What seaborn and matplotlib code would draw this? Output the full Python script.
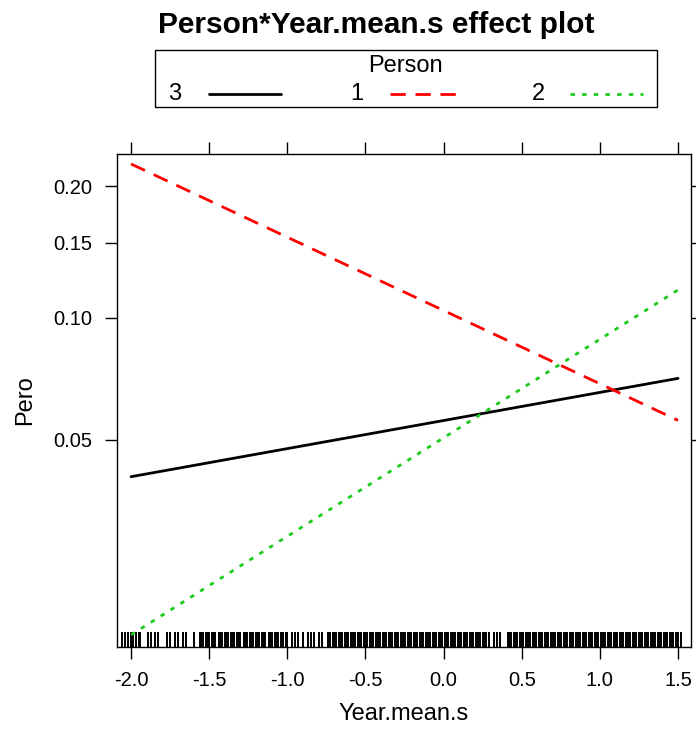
import matplotlib
matplotlib.use("Agg")
import matplotlib.pyplot as plt
from matplotlib.lines import Line2D
from matplotlib.patches import Rectangle
from matplotlib.ticker import FixedLocator, FixedFormatter, NullLocator
import seaborn as sns
import pandas as pd

sns.set_theme(style="white")
plt.rcParams['font.family'] = ['Liberation Sans', 'DejaVu Sans']
plt.rcParams['text.color'] = 'black'

# ---- data ----
persons = ["3", "1", "2"]
x_ends = [-2.0, 1.5]
pero_p3 = [0.0402, 0.0712]
pero_p1 = [0.2226, 0.0559]
pero_p2 = [0.0156, 0.1166]

rug_x = [-2.06, -2.04, -2.02, -2.00, -1.99, -1.97, -1.95, -1.94, -1.89, -1.87, -1.85, -1.83,
         -1.77, -1.75, -1.72, -1.70, -1.67, -1.65, -1.60,
         -1.56, -1.55, -1.54, -1.52, -1.51, -1.50, -1.48, -1.47, -1.46, -1.44, -1.43, -1.42,
         -1.40, -1.39, -1.38, -1.36, -1.35, -1.34, -1.32, -1.31, -1.30, -1.28, -1.27, -1.26,
         -1.24, -1.23, -1.22, -1.20, -1.19, -1.18, -1.16, -1.15, -1.14, -1.12, -1.11, -1.10,
         -1.08, -1.07, -1.06, -1.04, -1.03, -1.01, -1.00,
         -0.97, -0.95, -0.93, -0.90, -0.87, -0.85, -0.83, -0.80, -0.78,
         -0.74, -0.73, -0.71, -0.70, -0.69, -0.67, -0.66, -0.65, -0.63, -0.62, -0.61, -0.59,
         -0.58, -0.57, -0.55, -0.54, -0.53, -0.51, -0.50, -0.49, -0.47, -0.46, -0.45, -0.43,
         -0.42, -0.41, -0.39, -0.38, -0.37, -0.35, -0.34, -0.33, -0.31, -0.30, -0.29, -0.27,
         -0.26, -0.25, -0.23, -0.22, -0.21, -0.19, -0.18, -0.17, -0.15, -0.14, -0.13, -0.11,
         -0.10, -0.09, -0.07, -0.06, -0.05, -0.03, -0.02, -0.01, 0.01, 0.02, 0.03, 0.05,
         0.06, 0.07, 0.09, 0.10, 0.11, 0.13, 0.14, 0.15, 0.17, 0.18, 0.19, 0.21, 0.22, 0.23,
         0.25, 0.26, 0.27, 0.29,
         0.32, 0.34, 0.36,
         0.41, 0.42, 0.43, 0.45, 0.46, 0.47, 0.49, 0.50, 0.51, 0.53, 0.54, 0.55, 0.57, 0.58,
         0.59, 0.61, 0.62, 0.63, 0.65, 0.66, 0.67, 0.69, 0.70, 0.71, 0.73, 0.74, 0.75, 0.77,
         0.78, 0.79, 0.81, 0.82, 0.83, 0.85, 0.86, 0.87, 0.89, 0.90, 0.91, 0.93, 0.94, 0.95,
         0.97, 0.98, 0.99, 1.01, 1.02, 1.03, 1.05, 1.06, 1.07, 1.09, 1.10, 1.11, 1.13, 1.14,
         1.15, 1.17, 1.18, 1.19, 1.21, 1.22, 1.23, 1.25, 1.26, 1.27, 1.29, 1.30, 1.31, 1.33,
         1.34, 1.35, 1.37, 1.38, 1.39, 1.41, 1.42, 1.43, 1.45, 1.46, 1.47, 1.49, 1.50, 1.52]

y_ticks = [0.05, 0.10, 0.15, 0.20]
y_tick_labels = ["0.05", "0.10", "0.15", "0.20"]
x_ticks = [-2.0, -1.5, -1.0, -0.5, 0.0, 0.5, 1.0, 1.5]
x_tick_labels = ["-2.0", "-1.5", "-1.0", "-0.5", "0.0", "0.5", "1.0", "1.5"]

df = pd.DataFrame({
    "Year.mean.s": x_ends * 3,
    "Pero": pero_p3 + pero_p1 + pero_p2,
    "Person": [persons[0]] * 2 + [persons[1]] * 2 + [persons[2]] * 2,
})

palette = {"3": "#000000", "1": "#FF0000", "2": "#1DCB1D"}
dashes = {"3": "", "1": (5.5, 3.5), "2": (1.6, 2.6)}

W, H = 696, 729
fig = plt.figure(figsize=(W / 100, H / 100), dpi=100)
ax = fig.add_axes([117/W, 82/H, 574/W, 493/H])

sns.rugplot(x=rug_x, height=0.031, color="black", linewidth=1.4, ax=ax, zorder=1)
sns.lineplot(data=df, x="Year.mean.s", y="Pero", hue="Person", style="Person",
             hue_order=persons, style_order=persons, palette=palette, dashes=dashes,
             linewidth=2, legend=False, ax=ax, zorder=3)

ax.set_yscale("logit")
ax.set_ylim(0.01449, 0.2334)
ax.set_xlim(-2.09, 1.583)
ax.yaxis.set_major_locator(FixedLocator(y_ticks))
ax.yaxis.set_major_formatter(FixedFormatter(y_tick_labels))
ax.yaxis.set_minor_locator(NullLocator())
ax.xaxis.set_major_locator(FixedLocator(x_ticks))
ax.xaxis.set_major_formatter(FixedFormatter(x_tick_labels))
ax.xaxis.set_minor_locator(NullLocator())

for s in ax.spines.values():
    s.set_color("black")
    s.set_linewidth(1.0)
ax.tick_params(axis="both", which="major", direction="out", length=8.5, width=1.0,
               color="black", labelsize=14.5, labelcolor="black",
               top=True, right=True, bottom=True, left=True)
ax.tick_params(axis="x", pad=9)
ax.tick_params(axis="y", pad=9)

ax.set_xlabel("Year.mean.s", fontsize=17, color="black", labelpad=9)
ax.set_ylabel("Pero", fontsize=17, color="black", labelpad=13)

fig.text(376/W, 1 - 25/H, "Person*Year.mean.s effect plot", fontsize=21.5,
         fontweight="bold", ha="center", va="center", color="black")

# ---- legend (lattice key style: label then line) ----
fig.patches.append(Rectangle((155/W, 1 - 107/H), 502/W, 57/H, transform=fig.transFigure,
                             facecolor="none", edgecolor="black", linewidth=1.0))
fig.text(405/W, 1 - 66/H, "Person", fontsize=17, ha="center", va="center", color="black")
key_label_x = [175, 357, 538]
key_line_x = [(209, 281), (390, 457), (570, 643)]
key_y = 94
for p, lx, (x0, x1) in zip(persons, key_label_x, key_line_x):
    fig.text(lx/W, 1 - key_y/H, p, fontsize=17, ha="center", va="center", color="black")
    ls = "-" if p == "3" else (0, dashes[p])
    fig.lines.append(Line2D([x0/W, x1/W], [1 - key_y/H, 1 - key_y/H], transform=fig.transFigure,
                            color=palette[p], linewidth=2, linestyle=ls))

fig.savefig("out.png", dpi=100)
